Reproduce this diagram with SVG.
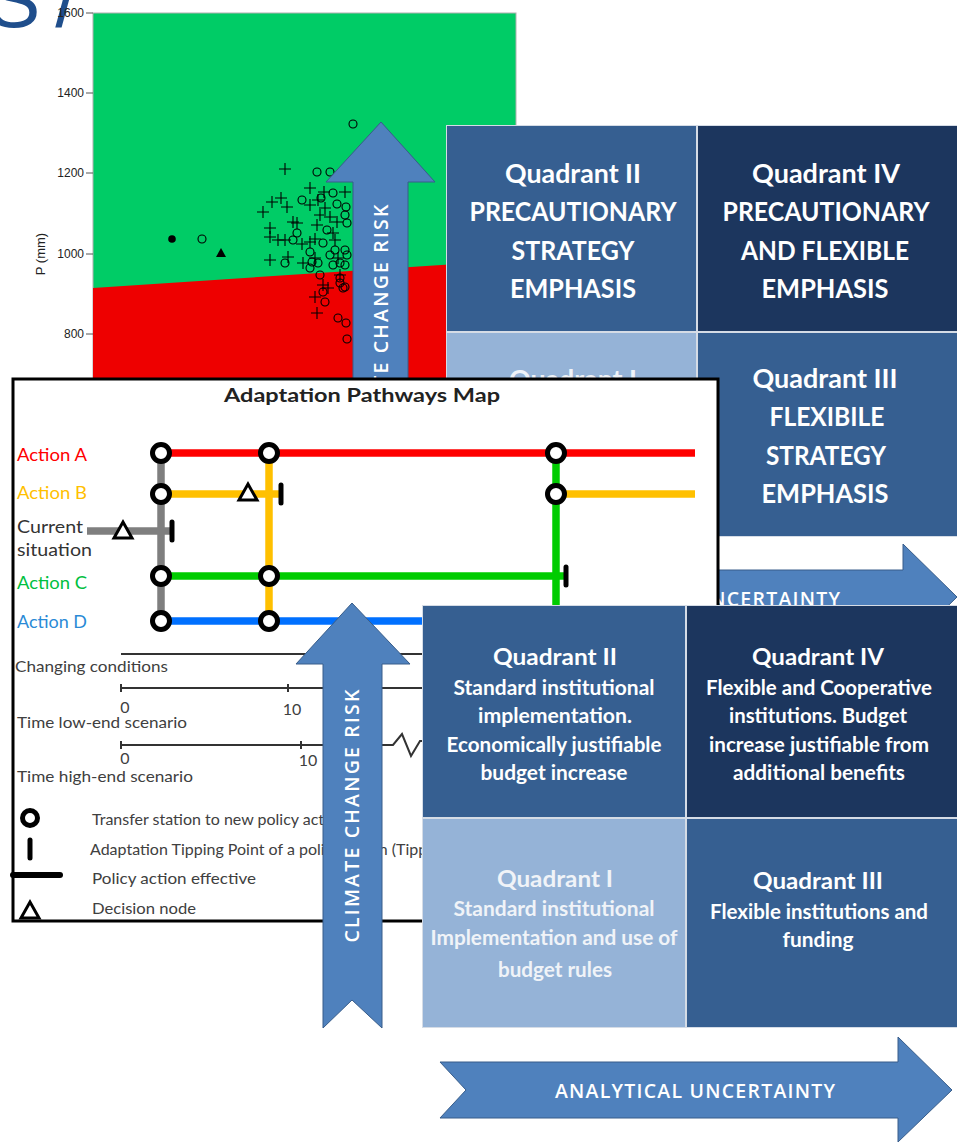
<svg xmlns="http://www.w3.org/2000/svg" xmlns:xlink="http://www.w3.org/1999/xlink" width="957" height="1144" viewBox="0 0 957 1144">
<style>
.tick{font-family:"Liberation Sans",Arial,sans-serif;font-size:12px;fill:#222;text-anchor:end}
.qt{font-family:Lato,"Open Sans",sans-serif;font-weight:700;fill:#fff;text-anchor:middle}
.qU{font-size:27px}
.qL{font-size:23px}
.qS{font-size:20px}
.dim{fill:#f0f3f8}
.arrow{fill:#4f81bd;stroke:#385d8a;stroke-width:1}
.at{font-family:"Open Sans",Lato,sans-serif;font-weight:600;fill:#fff;text-anchor:middle;font-size:19.5px}
.lab{font-family:Lato,"Open Sans",sans-serif;font-size:17px}
.leg{font-family:Lato,"Open Sans",sans-serif;font-size:16px;fill:#404040}
.st{fill:#fff;stroke:#000;stroke-width:5}
.dn{fill:#fff;stroke:#000;stroke-width:3;stroke-linejoin:miter}
.tp{stroke:#000;stroke-width:5;stroke-linecap:round}
.ln{fill:none;stroke-width:7.5;stroke-linecap:butt}
.pt{fill:none;stroke:#000;stroke-width:1.1}
.tl{fill:none;stroke:#333;stroke-width:2}
</style>
<defs>
<path id="pl" d="M-6 0H6M0-6V6"/>
<circle id="oc" r="4"/>
</defs>

<g id="title-fragment">
<text x="-13" y="27" font-family="Liberation Sans,Arial,sans-serif" font-size="80" fill="#1f4e8c">S<tspan dx="15">/</tspan></text>
</g>

<g id="scatter-plot">
<rect x="93" y="13" width="423" height="380" fill="#00cc66" stroke="#b0b0b0" stroke-width="1"/>
<polygon points="93,288 516,260 516,393 93,393" fill="#ee0000"/>
<g stroke="#555" stroke-width="1">
<line x1="86" y1="13" x2="93" y2="13"/><line x1="86" y1="93" x2="93" y2="93"/><line x1="86" y1="173" x2="93" y2="173"/><line x1="86" y1="254" x2="93" y2="254"/><line x1="86" y1="334" x2="93" y2="334"/>
</g>
<text class="tick" x="84" y="17">1600</text>
<text class="tick" x="84" y="97">1400</text>
<text class="tick" x="84" y="177">1200</text>
<text class="tick" x="84" y="258">1000</text>
<text class="tick" x="84" y="338">800</text>
<text transform="translate(45,254) rotate(-90)" font-family="Liberation Sans,Arial,sans-serif" font-size="13" fill="#222" text-anchor="middle">P (mm)</text>
<g class="pt">
<use xlink:href="#pl" x="285" y="169"/><use xlink:href="#pl" x="310" y="188"/><use xlink:href="#pl" x="272" y="202"/><use xlink:href="#pl" x="281" y="198"/><use xlink:href="#pl" x="287" y="207"/><use xlink:href="#pl" x="263" y="212"/><use xlink:href="#pl" x="270" y="228"/><use xlink:href="#pl" x="270" y="237"/><use xlink:href="#pl" x="293" y="222"/><use xlink:href="#pl" x="278" y="240"/><use xlink:href="#pl" x="285" y="240"/><use xlink:href="#pl" x="302" y="244"/><use xlink:href="#pl" x="310" y="242"/><use xlink:href="#pl" x="315" y="239"/><use xlink:href="#pl" x="317" y="225"/><use xlink:href="#pl" x="320" y="215"/><use xlink:href="#pl" x="325" y="208"/><use xlink:href="#pl" x="330" y="217"/><use xlink:href="#pl" x="337" y="222"/><use xlink:href="#pl" x="310" y="205"/><use xlink:href="#pl" x="318" y="200"/><use xlink:href="#pl" x="324" y="192"/><use xlink:href="#pl" x="345" y="192"/><use xlink:href="#pl" x="333" y="233"/><use xlink:href="#pl" x="335" y="240"/><use xlink:href="#pl" x="270" y="260"/><use xlink:href="#pl" x="288" y="257"/><use xlink:href="#pl" x="303" y="263"/><use xlink:href="#pl" x="315" y="258"/><use xlink:href="#pl" x="338" y="258"/><use xlink:href="#pl" x="323" y="285"/><use xlink:href="#pl" x="328" y="288"/><use xlink:href="#pl" x="315" y="297"/><use xlink:href="#pl" x="317" y="313"/><use xlink:href="#pl" x="340" y="275"/><use xlink:href="#pl" x="297" y="223"/>
<use xlink:href="#oc" x="353" y="124"/><use xlink:href="#oc" x="317" y="172"/><use xlink:href="#oc" x="330" y="172"/><use xlink:href="#oc" x="302" y="200"/><use xlink:href="#oc" x="321" y="198"/><use xlink:href="#oc" x="333" y="193"/><use xlink:href="#oc" x="337" y="204"/><use xlink:href="#oc" x="346" y="207"/><use xlink:href="#oc" x="345" y="215"/><use xlink:href="#oc" x="347" y="223"/><use xlink:href="#oc" x="327" y="230"/><use xlink:href="#oc" x="297" y="233"/><use xlink:href="#oc" x="293" y="240"/><use xlink:href="#oc" x="310" y="252"/><use xlink:href="#oc" x="323" y="243"/><use xlink:href="#oc" x="330" y="255"/><use xlink:href="#oc" x="335" y="250"/><use xlink:href="#oc" x="345" y="250"/><use xlink:href="#oc" x="347" y="255"/><use xlink:href="#oc" x="285" y="263"/><use xlink:href="#oc" x="312" y="262"/><use xlink:href="#oc" x="310" y="268"/><use xlink:href="#oc" x="318" y="263"/><use xlink:href="#oc" x="333" y="265"/><use xlink:href="#oc" x="340" y="263"/><use xlink:href="#oc" x="345" y="265"/><use xlink:href="#oc" x="320" y="275"/><use xlink:href="#oc" x="340" y="278"/><use xlink:href="#oc" x="340" y="283"/><use xlink:href="#oc" x="343" y="288"/><use xlink:href="#oc" x="323" y="292"/><use xlink:href="#oc" x="325" y="302"/><use xlink:href="#oc" x="345" y="287"/><use xlink:href="#oc" x="338" y="318"/><use xlink:href="#oc" x="346" y="323"/><use xlink:href="#oc" x="347" y="339"/><use xlink:href="#oc" x="202" y="239"/>
</g>
<circle cx="172" cy="239" r="3.8" fill="#000"/>
<polygon points="216,257 226,257 221,248" fill="#000"/>
</g>

<g id="upper-quadrants">
<rect x="446" y="125" width="511" height="412" fill="#d5dce6"/>
<g id="upper-q2"><rect x="447" y="126" width="249" height="205" fill="#365f91"/>
<text class="qt qU" x="573" y="183" textLength="136" lengthAdjust="spacingAndGlyphs">Quadrant II</text>
<text class="qt qU" x="573" y="221" textLength="207" lengthAdjust="spacingAndGlyphs">PRECAUTIONARY</text>
<text class="qt qU" x="573" y="260" textLength="123" lengthAdjust="spacingAndGlyphs">STRATEGY</text>
<text class="qt qU" x="573" y="298" textLength="126" lengthAdjust="spacingAndGlyphs">EMPHASIS</text></g>
<g id="upper-q4"><rect x="698" y="126" width="259" height="205" fill="#1c365e"/>
<text class="qt qU" x="826" y="183" textLength="148" lengthAdjust="spacingAndGlyphs">Quadrant IV</text>
<text class="qt qU" x="826" y="221" textLength="207" lengthAdjust="spacingAndGlyphs">PRECAUTIONARY</text>
<text class="qt qU" x="825" y="260" textLength="168" lengthAdjust="spacingAndGlyphs">AND FLEXIBLE</text>
<text class="qt qU" x="825" y="298" textLength="127" lengthAdjust="spacingAndGlyphs">EMPHASIS</text></g>
<g id="upper-q1"><rect x="447" y="333" width="249" height="203" fill="#95b3d7"/>
<text class="qt qU dim" x="573" y="389" textLength="128" lengthAdjust="spacingAndGlyphs">Quadrant I</text></g>
<g id="upper-q3"><rect x="698" y="333" width="259" height="203" fill="#365f91"/>
<text class="qt qU" x="825" y="388" textLength="145" lengthAdjust="spacingAndGlyphs">Quadrant III</text>
<text class="qt qU" x="827" y="426" textLength="115" lengthAdjust="spacingAndGlyphs">FLEXIBILE</text>
<text class="qt qU" x="826" y="465" textLength="120" lengthAdjust="spacingAndGlyphs">STRATEGY</text>
<text class="qt qU" x="825" y="503" textLength="127" lengthAdjust="spacingAndGlyphs">EMPHASIS</text></g>
</g>

<g id="upper-risk-arrow">
<polygon class="arrow" points="381,122 435,182 408,182 408,520 381,495 353,520 353,182 326,182"/>
<text class="at" transform="translate(381,331) rotate(-90)" x="0" y="7" textLength="253" lengthAdjust="spacing">CLIMATE CHANGE RISK</text>
</g>

<g id="upper-uncertainty-arrow">
<polygon class="arrow" points="445,570 903,570 903,544 957,597 903,650 903,626 445,626 471,597"/>
<text class="at" x="700" y="606" textLength="280" lengthAdjust="spacing">ANALYTICAL UNCERTAINTY</text>
</g>

<g id="pathways-map">
<rect x="13" y="379" width="705" height="542" fill="#fff" stroke="#000" stroke-width="3"/>
<text x="362" y="402" font-family="Lato,'Open Sans',sans-serif" font-weight="700" font-size="19" fill="#222" text-anchor="middle" textLength="276" lengthAdjust="spacingAndGlyphs">Adaptation Pathways Map</text>
<text class="lab" x="17" y="461" fill="#ff0000" textLength="70" lengthAdjust="spacingAndGlyphs">Action A</text>
<text class="lab" x="17" y="499" fill="#ffc000" textLength="70" lengthAdjust="spacingAndGlyphs">Action B</text>
<text class="lab" x="17" y="533" fill="#333" textLength="66" lengthAdjust="spacingAndGlyphs">Current</text>
<text class="lab" x="17" y="556" fill="#333" textLength="75" lengthAdjust="spacingAndGlyphs">situation</text>
<text class="lab" x="17" y="589" fill="#00c040" textLength="70" lengthAdjust="spacingAndGlyphs">Action C</text>
<text class="lab" x="17" y="628" fill="#2a8ad6" textLength="70" lengthAdjust="spacingAndGlyphs">Action D</text>
<g id="pathway-lines">
<line class="ln" x1="161" y1="453" x2="161" y2="621" stroke="#7f7f7f"/>
<line class="ln" x1="269" y1="453" x2="269" y2="621" stroke="#ffc000"/>
<line class="ln" x1="556" y1="453" x2="556" y2="640" stroke="#00cc00"/>
<line class="ln" x1="87" y1="531" x2="170" y2="531" stroke="#7f7f7f"/>
<line class="ln" x1="161" y1="453" x2="695" y2="453" stroke="#ff0000" stroke-linecap="round"/>
<line class="ln" x1="161" y1="494" x2="279" y2="494" stroke="#ffc000"/>
<line class="ln" x1="556" y1="494" x2="695" y2="494" stroke="#ffc000" stroke-linecap="round"/>
<line class="ln" x1="161" y1="576" x2="564" y2="576" stroke="#00cc00"/>
<line class="ln" x1="161" y1="621" x2="560" y2="621" stroke="#0070ff"/>
</g>
<line class="tp" x1="281" y1="485" x2="281" y2="503"/>
<line class="tp" x1="172" y1="522" x2="172" y2="540"/>
<line class="tp" x1="566" y1="567" x2="566" y2="585"/>
<polygon class="dn" points="239,500 257,500 248,484"/>
<polygon class="dn" points="114,538 132,538 123,522"/>
<circle class="st" cx="161" cy="453" r="8.5"/><circle class="st" cx="269" cy="453" r="8.5"/><circle class="st" cx="556" cy="453" r="8.5"/>
<circle class="st" cx="161" cy="494" r="8.5"/><circle class="st" cx="556" cy="494" r="8.5"/>
<circle class="st" cx="161" cy="576" r="8.5"/><circle class="st" cx="269" cy="576" r="8.5"/>
<circle class="st" cx="161" cy="621" r="8.5"/><circle class="st" cx="269" cy="621" r="8.5"/>
<g id="timelines">
<line class="tl" x1="121" y1="654" x2="716" y2="654"/>
<line class="tl" x1="121" y1="688" x2="716" y2="688"/>
<path class="tl" d="M121 745H393L402 734L411 756L420 741H716"/>
<g stroke="#333" stroke-width="2"><line x1="121" y1="684" x2="121" y2="692"/><line x1="288" y1="684" x2="288" y2="692"/><line x1="121" y1="741" x2="121" y2="749"/><line x1="301" y1="741" x2="301" y2="749"/></g>
<text class="leg" x="15" y="672" textLength="153" lengthAdjust="spacingAndGlyphs">Changing conditions</text>
<text class="leg" x="125" y="713" text-anchor="middle">0</text>
<text class="leg" x="292" y="715" text-anchor="middle">10</text>
<text class="leg" x="17" y="728" textLength="170" lengthAdjust="spacingAndGlyphs">Time low-end scenario</text>
<text class="leg" x="125" y="764" text-anchor="middle">0</text>
<text class="leg" x="308" y="766" text-anchor="middle">10</text>
<text class="leg" x="17" y="782" textLength="176" lengthAdjust="spacingAndGlyphs">Time high-end scenario</text>
</g>
<g id="legend">
<circle class="st" cx="30" cy="818" r="7.5"/>
<line class="tp" x1="30" y1="840" x2="30" y2="858" stroke-width="6"/>
<line x1="13" y1="875" x2="60" y2="875" stroke="#000" stroke-width="6" stroke-linecap="round"/>
<polygon class="dn" points="21,918 39,918 30,902"/>
<text class="leg" x="92" y="825" font-size="17">Transfer station to new policy action</text>
<text class="leg" x="90" y="855" font-size="17">Adaptation Tipping Point of a policy action (Tipping point)</text>
<text class="leg" x="92" y="884" textLength="164" lengthAdjust="spacingAndGlyphs">Policy action effective</text>
<text class="leg" x="92" y="914" textLength="104" lengthAdjust="spacingAndGlyphs">Decision node</text>
</g>
</g>

<g id="lower-risk-arrow">
<polygon class="arrow" points="352,603 410,664 382,664 382,1028 352,1000 323,1028 323,664 296,664"/>
<text class="at" transform="translate(352,816) rotate(-90)" x="0" y="7" textLength="253" lengthAdjust="spacing">CLIMATE CHANGE RISK</text>
</g>

<g id="lower-quadrants">
<rect x="422" y="605" width="535" height="423" fill="#d5dce6"/>
<g id="lower-q2"><rect x="423" y="606" width="262" height="211" fill="#365f91"/>
<text class="qt qL" x="555" y="665" textLength="124" lengthAdjust="spacingAndGlyphs">Quadrant II</text>
<text class="qt qS" x="554" y="695" textLength="201" lengthAdjust="spacingAndGlyphs">Standard institutional</text>
<text class="qt qS" x="555" y="723" textLength="154" lengthAdjust="spacingAndGlyphs">implementation.</text>
<text class="qt qS" x="554" y="752" textLength="215" lengthAdjust="spacingAndGlyphs">Economically justifiable</text>
<text class="qt qS" x="554" y="780" textLength="147" lengthAdjust="spacingAndGlyphs">budget increase</text></g>
<g id="lower-q4"><rect x="687" y="606" width="270" height="211" fill="#1c365e"/>
<text class="qt qL" x="818" y="665" textLength="132" lengthAdjust="spacingAndGlyphs">Quadrant IV</text>
<text class="qt qS" x="819" y="695" textLength="226" lengthAdjust="spacingAndGlyphs">Flexible and Cooperative</text>
<text class="qt qS" x="818" y="723" textLength="178" lengthAdjust="spacingAndGlyphs">institutions. Budget</text>
<text class="qt qS" x="819" y="752" textLength="220" lengthAdjust="spacingAndGlyphs">increase justifiable from</text>
<text class="qt qS" x="819" y="780" textLength="172" lengthAdjust="spacingAndGlyphs">additional benefits</text></g>
<g id="lower-q1"><rect x="423" y="819" width="262" height="208" fill="#95b3d7"/>
<text class="qt qL dim" x="555" y="887" textLength="116" lengthAdjust="spacingAndGlyphs">Quadrant I</text>
<text class="qt qS dim" x="554" y="916" textLength="201" lengthAdjust="spacingAndGlyphs">Standard institutional</text>
<text class="qt qS dim" x="554" y="945" textLength="247" lengthAdjust="spacingAndGlyphs">Implementation and use of</text>
<text class="qt qS dim" x="555" y="977" textLength="114" lengthAdjust="spacingAndGlyphs">budget rules</text></g>
<g id="lower-q3"><rect x="687" y="819" width="270" height="208" fill="#365f91"/>
<text class="qt qL" x="818" y="889" textLength="130" lengthAdjust="spacingAndGlyphs">Quadrant III</text>
<text class="qt qS" x="819" y="919" textLength="218" lengthAdjust="spacingAndGlyphs">Flexible institutions and</text>
<text class="qt qS" x="818" y="947" textLength="71" lengthAdjust="spacingAndGlyphs">funding</text></g>
</g>

<g id="lower-uncertainty-arrow">
<polygon class="arrow" points="440,1062 898,1062 898,1037 952,1090 898,1142 898,1118 440,1118 466,1090"/>
<text class="at" x="695" y="1098" textLength="280" lengthAdjust="spacing">ANALYTICAL UNCERTAINTY</text>
</g>
</svg>
